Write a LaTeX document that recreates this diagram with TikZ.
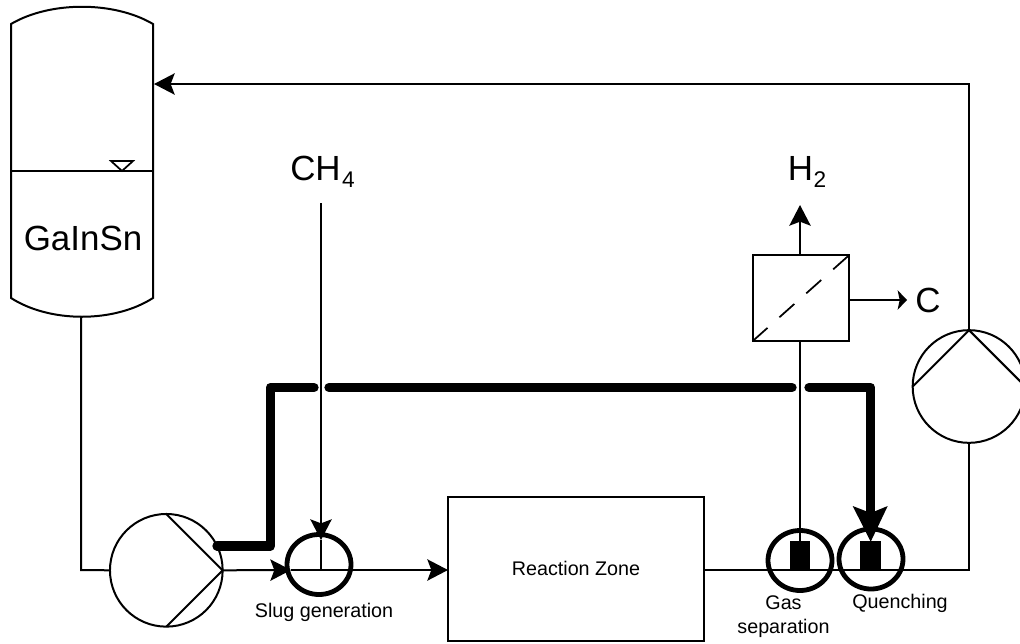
\documentclass[tikz,border=0pt]{standalone}
\usepackage{fontspec}
\setmainfont{Liberation Sans}
\usetikzlibrary{arrows.meta,shapes.geometric,calc}
\tikzset{
  thinln/.style={line width=1.5pt,draw=black},
  flow/.style={thinln,-{Stealth[length=15.5pt,width=16pt,inset=3pt]}},
  thick flow/.style={line width=7pt,line join=round,line cap=round},
  pumpbody/.style={circle,draw,thinln,fill=white,minimum size=84.5pt,inner sep=0pt,outer sep=0pt},
  mixer/.style={ellipse,draw,line width=3.6pt,minimum width=48pt,minimum height=45pt,inner sep=0pt,outer sep=0pt},
  plug/.style={rectangle,fill=black,minimum width=15.7pt,minimum height=22.5pt,inner sep=0pt,outer sep=0pt},
  unitbox/.style={rectangle,draw,thinln,fill=white,inner sep=0pt,outer sep=0pt},
  small label/.style={font=\fontsize{14.8}{17}\selectfont,inner sep=0pt},
  big label/.style={font=\fontsize{26.2}{30}\selectfont,inner sep=0pt},
}
\begin{document}
\begin{tikzpicture}[x=0.75pt,y=-0.75pt]
\useasboundingbox (0,0) rectangle (1020,643);
\clip (0,0) rectangle (1020,643);
\fill[white] (0,0) rectangle (1020,643);

% coordinates
\coordinate (vesselIn) at (154,84);
\coordinate (vesselOut) at (81,317);
\coordinate (suctionCorner) at (81,570);
\coordinate (ret) at (969,84);
\coordinate (outCorner) at (969,570);
\coordinate (chStart) at (321,203);
\coordinate (chTip) at (321,540);
\coordinate (slugIn) at (291,570);
\coordinate (gasFoot) at (800,541);

% vessel
\draw[thinln,fill=white] (11,24) .. controls (50,1) and (114,1) .. (153,24) -- (153,298)
  .. controls (114,323) and (50,323) .. (11,298) -- cycle;
\draw[thinln] (11,171) -- (153,171);
\draw[line width=1.3pt] (111,161) -- (133,161) -- (122,171) -- cycle;
\node[big label,anchor=center] (gainsn) at (83,238.5) {GaInSn};

% equipment nodes
\node[pumpbody] (pumpA) at (166.3,570.3) {};
\node[pumpbody] (pumpB) at (969,386.5) {};
\node[unitbox,minimum width=192pt,minimum height=108pt] (reactor) at (576,569) {};
\node[small label] (rzlabel) at (576,568) {Reaction Zone};
\node[unitbox,minimum width=72.4pt,minimum height=64.5pt] (membrane) at (800.8,298.2) {};
\node[mixer] (slug) at (319,564.5) {};
\node[mixer] (gas) at (800,560.5) {};
\node[mixer] (quench) at (871,559) {};
\node[plug] (plugA) at (800,556) {};
\node[plug] (plugB) at (870.3,556) {};

% pump impellers
\draw[thinln] (pumpA.north) -- (pumpA.east) -- (pumpA.south);
\draw[thinln] (pumpB.west) -- (pumpB.north) -- (pumpB.east);

% membrane
\draw[line width=1.3pt,dash pattern=on 15pt off 12pt]
  (membrane.south west) -- (membrane.north east);

% thin pipes
\draw[thinln] (vesselOut) -- (suctionCorner) -- (pumpA.west);
\draw[flow] (pumpA.east) -- (slugIn);
\draw[flow] (slugIn) -- (reactor.west |- slugIn);
\draw[flow] (chStart) -- (chTip);
\draw[thinln] (chTip) -- (321,570);
\draw[thinln] (reactor.east |- suctionCorner) -- (outCorner) -- (pumpB.south);
\draw[flow] (pumpB.north) -- (ret) -- (vesselIn);
\draw[thinln] (gasFoot) -- (membrane.south -| gasFoot);
\draw[flow] (membrane.north -| gasFoot) -- (800,205);
\draw[thinln,-{Stealth[length=7pt,width=14.5pt,inset=1.5pt]}] (membrane.east |- 0,300) -- (907,300);

% thick stream with gaps at the crossings
\coordinate (thA) at (217,546);
\coordinate (thB) at (270.3,546);
\coordinate (thC) at (270.3,387.5);
\coordinate (thD) at (314,387.5);
\coordinate (thE) at (329,387.5);
\coordinate (thF) at (792,387.5);
\coordinate (thG) at (809,387.5);
\coordinate (thH) at (870.7,387.5);
\coordinate (thI) at (870.7,512);
\coordinate (thTip) at (870.7,541.7);
\draw[thick flow] (thA) -- (thB) -- (thC) -- (thD);
\draw[thick flow] (thE) -- (thF);
\draw[thick flow] (thG) -- (thH) -- (thI);
\fill (852.7,506) -- (870.7,513) -- (887.7,506) -- (thTip) -- cycle;

% labels
\node[big label,anchor=base west] (ch4) at (290,180.7) {CH\kern1pt\raisebox{-4.8pt}{\fontsize{17}{20}\selectfont 4}};
\node[big label,anchor=base west] (h2) at (787.5,180.7) {H\kern0.5pt\raisebox{-4.8pt}{\fontsize{17}{20}\selectfont 2}};
\node[big label,anchor=center] (clabel) at (928,300) {C};
\node[small label,anchor=center] (sluglabel) at (324,612) {Slug generation};
\node[small label,anchor=center] (gaslabel1) at (783.5,603) {Gas};
\node[small label,anchor=center] (gaslabel2) at (783.5,628) {separation};
\node[small label,anchor=center] (qlabel) at (900,603) {Quenching};
\end{tikzpicture}
\end{document}
